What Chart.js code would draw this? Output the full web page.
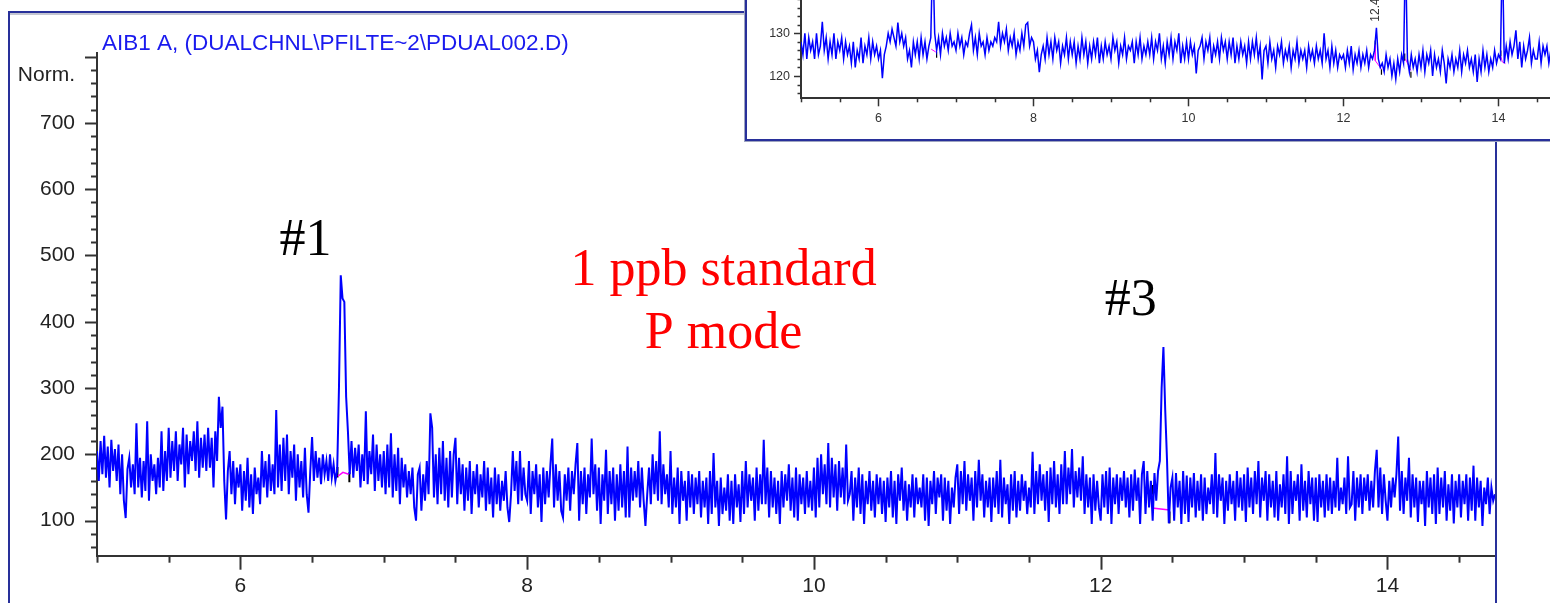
<!DOCTYPE html>
<html>
<head>
<meta charset="utf-8">
<title>AIB1 A chromatogram</title>
<script src="https://cdn.jsdelivr.net/npm/chart.js@4.4.1/dist/chart.umd.min.js"></script>
<style>
  html, body { margin: 0; padding: 0; background: #fff; }
  body { width: 1550px; height: 603px; position: relative; overflow: hidden; }
  #mainChart { position: absolute; left: 0; top: 0; z-index: 1; }
  .frame-main {
    position: absolute; left: 8px; top: 11px; width: 1489px; height: 700px;
    border: 2px solid #28309a; box-sizing: border-box;
    box-shadow: inset 0 2px 0 #c4c6d2; z-index: 2;
  }
  .inset-box {
    position: absolute; left: 745px; top: -20px; width: 900px; height: 161px;
    background: #fff; border-left: 2px solid #28309a; border-bottom: 2px solid #28309a;
    box-sizing: border-box; box-shadow: -1px 1px 0 #9ea4c0; z-index: 3;
  }
  #insetChart { position: absolute; left: 747px; top: -40px; z-index: 4; }
</style>
</head>
<body>
<canvas id="mainChart" width="1550" height="603"></canvas>
<div class="frame-main"></div>
<div class="inset-box"></div>
<canvas id="insetChart" width="860" height="178"></canvas>
<script>
// Main trace (AIB1 A): one reading every 0.0125 min from 5.0 min, 20 per row
const mainStart = 5.0;
const mainStep = 0.0125;
const mainSignal = [
  205,160,220,170,228,165,212,150,222,175,208,160,215,140,200,130,104,178,195,150,
  185,140,247,150,195,135,190,145,250,130,200,160,185,140,195,150,235,145,205,160,
  240,165,220,175,235,160,215,185,240,150,230,170,220,190,235,175,250,165,225,180,
  230,175,240,180,225,150,235,190,287,240,272,160,102,175,205,140,190,125,180,150,
  185,115,175,130,195,120,170,110,180,140,165,125,205,150,190,135,200,145,185,140,
  267,150,215,145,225,160,230,140,205,165,215,130,200,150,190,135,210,140,112,175,
  226,160,205,165,195,155,200,170,190,160,200,165,185,160,175,300,470,435,430,287,
  235,170,220,165,210,175,215,150,200,160,265,155,205,170,230,145,215,160,200,150,
  205,140,215,150,232,135,200,145,210,125,195,150,185,135,175,140,180,120,100,170,
  180,115,170,130,190,140,262,240,135,200,125,210,140,220,130,195,120,205,135,200,
  225,125,195,140,185,115,180,130,190,110,175,140,185,120,170,135,190,115,180,125,
  165,105,180,125,170,115,160,130,175,120,98,140,205,145,190,125,205,130,180,140,
  130,190,110,175,140,185,120,170,98,180,125,175,135,185,224,120,185,130,175,115,
  105,170,130,180,115,175,140,185,217,100,175,125,180,110,170,135,224,140,185,115,
  180,95,170,130,207,110,175,125,180,100,170,115,185,120,175,105,212,105,180,130,
  175,135,190,120,180,130,92,140,180,125,200,140,190,130,235,125,185,140,170,120,
  205,110,165,120,180,95,175,130,160,100,175,120,170,110,165,125,175,105,160,120,
  165,95,175,110,202,120,160,92,165,110,150,115,170,100,160,95,170,120,155,98,
  175,110,190,120,170,130,165,100,180,115,170,125,222,125,180,105,175,120,165,110,
  160,95,175,120,170,130,185,115,165,105,180,100,170,125,165,110,175,120,160,115,
  180,105,195,120,200,140,185,125,217,120,195,135,185,115,190,135,180,125,215,130,
  140,175,100,165,120,180,110,170,95,160,125,175,115,160,105,170,125,165,110,160,
  98,165,120,175,105,160,95,170,130,180,115,160,100,155,120,170,105,165,125,150,
  120,170,100,165,92,160,125,175,110,165,135,170,100,165,115,160,95,150,120,165,
  185,110,175,125,190,115,170,130,165,100,175,120,192,130,170,105,160,120,165,98,
  165,120,175,110,192,105,165,125,155,95,170,115,175,105,160,115,170,130,160,110,
  150,120,204,110,175,125,185,130,170,115,175,98,180,125,190,120,170,110,185,125,
  205,125,180,140,208,120,175,135,180,130,197,110,170,120,165,95,170,115,160,120,
  100,170,120,175,110,180,95,165,125,170,110,165,130,175,120,165,105,170,115,177,
  130,165,95,170,190,110,175,120,160,100,172,130,175,190,300,362,267,192,96,150,
  165,100,172,120,160,95,175,110,168,98,165,120,172,105,160,115,170,100,165,110,
  150,125,170,110,202,105,170,130,165,95,160,115,170,125,160,100,175,120,165,115,
  170,98,180,120,165,110,175,125,190,105,165,130,175,100,170,120,160,105,175,100,
  155,120,170,110,197,95,175,110,160,130,170,100,185,115,160,105,175,125,165,100,
  165,98,170,120,160,105,170,115,165,110,160,120,195,115,150,125,165,110,197,120,
  125,175,100,165,120,170,110,165,130,170,115,160,120,175,207,120,180,110,170,130,
  100,160,120,165,135,170,227,115,175,110,165,130,195,105,170,120,165,98,160,125,
  160,92,175,120,165,110,170,95,180,110,165,120,175,100,155,115,170,96,160,120,
  170,105,160,125,170,100,165,115,183,100,165,120,160,92,150,125,165,110,150,130,
  140
];

// Inset trace: one reading every 0.025 min from 5.0 min, 20 per row
const insetStart = 5.0;
const insetStep = 0.025;
const insetSignal = [
  128,125,130,124,129,126,128,124,130,125,127,132.7,126,129,124,128,125,130,124,128,
  126,129,124,128,125,127,123,128,122,126,124,129,123,127,125,129,124,128,125,127,
  124,126,119.5,125,127,130,128,131,129,127,132.5,128,130,127,129,124,126,122,128,125,
  128,124,129,125,128,124,127,129,150,130,126,129,125,130,127,129,126,130,127,128,
  126,130,127,129,125,128,127,130,132,126,129,125,130,127,128,125,129,126,128,127,
  129,128,132.7,127,130,128,131,126,129,127,130,125,128,126,130,127,132,132.5,127,129,
  128,124,126,120.9,125,127,124,129,125,128,124,129,126,128,123,127,125,129,124,128,
  125,128,123,127,124,129,125,128,123,127,124,128,125,129,123,127,124,128,125,127,
  124,129,126,128,123,127,125,129,124,127,126,128,123,128,125,129,124,127,125,128,
  125,129,124,128,126,130,124,127,123,128,125,129,124,128,126,130,123,127,124,128,
  124,128,125,127,120.6,126,127,129,124,128,126,129,123,127,125,128,124,129,126,128,
  124,128,125,129,123,127,124,128,125,127,123,128,124,128,125,129,124,127,119.2,126,
  127,123,128,124,126,122,127,125,128,123,126,124,127,122,126,124,128,123,126,124,
  126,122,127,124,126,123,127,124,126,123,130,124,126,122,127,123,126,122,125,124,
  125,122,126,123,127,121.5,125,123,126,122,125,123,126,122,125,124,126,131.3,124,122,
  123,121,125,122,124,120,123,119.3,124,121,125,123,150,124,121,125,122,124,121,125,
  122,126,121,125,123,126,120,125,122,124,121,126,123,118.3,124,122,125,121,124,122,
  126,121,125,123,126,122,124,121,125,118.6,124,121,126,122,125,121,124,122,126,123,
  125,124,150,123,127,124,128,125,127,130.7,124,128,122,127,124,126,129,123,126,124,
  124,128,123,127,125,127,123,126,125
];

// Tick labels
const mainXTicks = [6, 8, 10, 12, 14];
const mainYTicks = [100, 200, 300, 400, 500, 600, 700];
const insetXTicks = [6, 8, 10, 12, 14];
const insetYTicks = [120, 130];

// Integration marks (pink baselines, black start/end ticks); null = break
const mainBaselines = [[6.68,167],[6.715,173],[6.755,170], null, [12.36,139],[12.36,119],[12.48,116]];
const mainDropLines = [[6.677,165],[6.677,181], null, [6.76,158],[6.76,173], null,
  [12.36,139],[12.36,154], null, [12.48,96],[12.48,114]];
const insetBaselines = [[6.68,126.3],[6.74,125.6], null, [12.41,127.3],[12.41,123.6],[12.49,121.6], null,
  [12.8,124],[12.87,121.3], null, [14.03,124.6],[14.05,123.3],[14.09,122.9]];
const insetDropLines = [[6.75,125.6],[6.75,124.3], null, [12.41,128.3],[12.41,127.3], null,
  [12.49,121.6],[12.49,120.3], null, [12.79,125.3],[12.79,123.6], null,
  [12.87,121],[12.87,119.6], null, [14.03,126],[14.03,124.6]];

const signalPoints = (vals, start, step) => vals.map((v, i) => ({ x: start + i * step, y: v }));
const toPoints = pairs => pairs.map((p, i) => p ? { x: p[0], y: p[1] } : { x: pairs[i - 1][0], y: null });

/** Minor/major tick marks and free text, drawn through the chart's scales */
const decor = {
  id: 'decor',
  afterDraw(chart, args, o) {
    const { ctx, scales: { x, y } } = chart;
    const line = (x1, y1, x2, y2) => { ctx.beginPath(); ctx.moveTo(x1, y1); ctx.lineTo(x2, y2); ctx.stroke(); };
    const isMult = (v, m) => Math.abs(v / m - Math.round(v / m)) < 1e-6;
    ctx.save();
    ctx.strokeStyle = o.tickColor;
    ctx.lineWidth = o.tickWidth;
    for (let v = Math.ceil(x.min / o.xMinor - 1e-9) * o.xMinor; v <= x.max + 1e-9; v += o.xMinor) {
      const px = Math.round(x.getPixelForValue(v)) + 0.5;
      line(px, y.bottom, px, y.bottom + (isMult(v, o.xMajor) ? o.xMajorLen : o.xMinorLen));
    }
    for (let v = Math.ceil(y.min / o.yMinor - 1e-9) * o.yMinor; v <= y.max + 1e-9; v += o.yMinor) {
      const py = Math.round(y.getPixelForValue(v)) + 0.5;
      line(x.left, py, x.left - (isMult(v, o.yMajor) ? o.yMajorLen : o.yMinorLen), py);
    }
    (o.texts || []).forEach(t => {
      const px = t.px !== undefined ? t.px : x.getPixelForValue(t.x);
      const py = t.py !== undefined ? t.py : y.getPixelForValue(t.y);
      ctx.save();
      ctx.translate(px, py);
      if (t.rotate) ctx.rotate(t.rotate);
      ctx.font = t.font;
      ctx.fillStyle = t.color;
      ctx.textAlign = t.align || 'left';
      ctx.textBaseline = t.baseline || 'alphabetic';
      ctx.fillText(t.text, 0, 0);
      ctx.restore();
    });
    ctx.restore();
  }
};

const serif = '52px "Liberation Serif", "Times New Roman", serif';
const sans = '"Liberation Sans", Arial, sans-serif';

new Chart(document.getElementById('mainChart'), {
  type: 'line',
  data: {
    datasets: [
      { data: signalPoints(mainSignal, mainStart, mainStep), borderColor: '#0000ff', borderWidth: 2, tension: 0, pointRadius: 0 },
      { data: toPoints(mainBaselines), borderColor: '#ff00ff', borderWidth: 1.5, pointRadius: 0 },
      { data: toPoints(mainDropLines), borderColor: '#000000', borderWidth: 2, pointRadius: 0 }
    ]
  },
  options: {
    responsive: false,
    animation: false,
    events: [],
    layout: { padding: { left: 0, top: 53, right: 55, bottom: 0 } },
    plugins: {
      legend: { display: false },
      tooltip: { enabled: false },
      decor: {
        tickColor: '#333', tickWidth: 2,
        xMinor: 0.5, xMajor: 2, xMajorLen: 14, xMinorLen: 7,
        yMinor: 20, yMajor: 100, yMajorLen: 12, yMinorLen: 6,
        texts: [
          { text: 'AIB1 A, (DUALCHNL\\PFILTE~2\\PDUAL002.D)', px: 102, py: 50, font: '22.5px ' + sans, color: '#1a1aee' },
          { text: 'Norm.', px: 75, py: 81, font: '21px ' + sans, color: '#222', align: 'right' },
          { text: '#1', x: 6.272, y: 500.8, font: serif, color: '#000' },
          { text: '1 ppb standard', x: 9.37, y: 455.5, font: serif, color: '#ff0000', align: 'center' },
          { text: 'P mode', x: 9.37, y: 360.5, font: serif, color: '#ff0000', align: 'center' },
          { text: '#3', x: 12.028, y: 410, font: serif, color: '#000' }
        ]
      }
    },
    scales: {
      x: {
        type: 'linear', min: 5, max: 14.75,
        grid: { display: false, drawTicks: false },
        border: { color: '#333', width: 2 },
        afterBuildTicks: s => { s.ticks = mainXTicks.map(v => ({ value: v })); },
        afterFit: s => { s.height = 47.3; },
        ticks: { padding: 18, color: '#222', maxRotation: 0, font: { family: sans, size: 21 } }
      },
      y: {
        type: 'linear', min: 47.2, max: 805.4,
        grid: { display: false, drawTicks: false },
        border: { color: '#333', width: 2 },
        afterBuildTicks: s => { s.ticks = mainYTicks.map(v => ({ value: v })); },
        afterFit: s => { s.width = 97; },
        ticks: { padding: 22, color: '#222', font: { family: sans, size: 21 } }
      }
    }
  },
  plugins: [decor]
});

new Chart(document.getElementById('insetChart'), {
  type: 'line',
  data: {
    datasets: [
      { data: signalPoints(insetSignal, insetStart, insetStep), borderColor: '#0000ff', borderWidth: 1.5, tension: 0, pointRadius: 0 },
      { data: toPoints(insetBaselines), borderColor: '#ff00ff', borderWidth: 1, pointRadius: 0 },
      { data: toPoints(insetDropLines), borderColor: '#000000', borderWidth: 1.2, pointRadius: 0 }
    ]
  },
  options: {
    responsive: false,
    animation: false,
    events: [],
    layout: { padding: { left: 0, top: 0, right: 50.4, bottom: 0 } },
    plugins: {
      legend: { display: false },
      tooltip: { enabled: false },
      decor: {
        tickColor: '#333', tickWidth: 1.5,
        xMinor: 0.5, xMajor: 2, xMajorLen: 8, xMinorLen: 4,
        yMinor: 2, yMajor: 10, yMajorLen: 7, yMinorLen: 3.5,
        texts: [
          { text: '12.413', x: 12.42, y: 132.7, font: '12px ' + sans, color: '#333', rotate: -Math.PI / 2, baseline: 'middle' }
        ]
      }
    },
    scales: {
      x: {
        type: 'linear', min: 5, max: 14.75,
        grid: { display: false, drawTicks: false },
        border: { color: '#333', width: 2 },
        afterBuildTicks: s => { s.ticks = insetXTicks.map(v => ({ value: v })); },
        afterFit: s => { s.height = 39.7; },
        ticks: { padding: 13, color: '#333', maxRotation: 0, font: { family: sans, size: 12.5 } }
      },
      y: {
        type: 'linear', min: 114.8, max: 142.8,
        grid: { display: false, drawTicks: false },
        border: { color: '#333', width: 2 },
        afterBuildTicks: s => { s.ticks = insetYTicks.map(v => ({ value: v })); },
        afterFit: s => { s.width = 54; },
        ticks: { padding: 11, color: '#333', font: { family: sans, size: 12.5 } }
      }
    }
  },
  plugins: [decor]
});
</script>
</body>
</html>
